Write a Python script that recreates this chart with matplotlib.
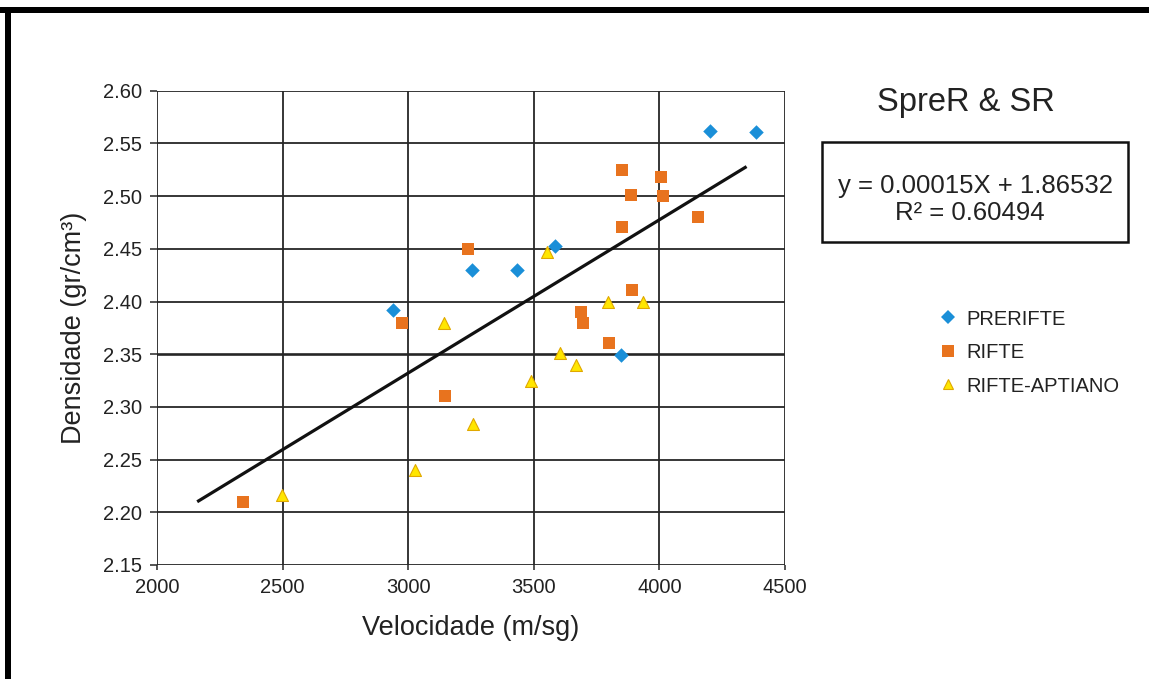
import matplotlib
matplotlib.use("Agg")
import matplotlib.pyplot as plt
from matplotlib.patches import Rectangle
from matplotlib.lines import Line2D

plt.rcParams['font.family'] = ['Liberation Sans', 'DejaVu Sans']

# ---- data ----
prerifte_x = [2940, 3255, 3432, 3584, 4201, 4383, 3846]
prerifte_y = [2.392, 2.430, 2.430, 2.453, 2.562, 2.561, 2.349]

rifte_x = [2977, 2344, 3148, 3239, 3852, 4005, 3887, 4013, 4152, 3850, 3892, 3688, 3696, 3798]
rifte_y = [2.380, 2.210, 2.310, 2.450, 2.525, 2.518, 2.501, 2.500, 2.480, 2.471, 2.411, 2.390, 2.380, 2.361]

aptiano_x = [3143, 2499, 3028, 3554, 3795, 3934, 3603, 3667, 3488, 3259]
aptiano_y = [2.380, 2.216, 2.240, 2.447, 2.400, 2.400, 2.351, 2.340, 2.325, 2.284]

trend_x = [2160, 4347]
trend_y = [2.210, 2.528]

x_ticks = [2000, 2500, 3000, 3500, 4000, 4500]
y_ticks = [2.15, 2.20, 2.25, 2.30, 2.35, 2.40, 2.45, 2.50, 2.55, 2.60]

series_names = ["PRERIFTE", "RIFTE", "RIFTE-APTIANO"]
title_text = "SpreR & SR"
eq_text = "y = 0.00015X + 1.86532"
r2_text = "R² = 0.60494"
x_label = "Velocidade (m/sg)"
y_label = "Densidade (gr/cm³)"

# ---- styles ----
W, H = 1149, 679
fig = plt.figure(figsize=(W / 100, H / 100), dpi=100)
fig.patch.set_facecolor('white')

ax = fig.add_axes([157 / W, 1 - 565 / H, (785 - 157) / W, (565 - 90.7) / H])
txt = '#222222'
grid_c = '#262626'

ax.set_xlim(2000, 4500)
ax.set_ylim(2.15, 2.60)
ax.set_xticks(x_ticks)
ax.set_yticks(y_ticks)
ax.set_yticklabels([f"{v:.2f}" for v in y_ticks])
ax.set_xticklabels([str(v) for v in x_ticks])

for v in x_ticks:
    ax.axvline(v, color=grid_c, lw=1.3, zorder=1)
for v in y_ticks:
    ax.axhline(v, color=grid_c, lw=1.9 if abs(v - 2.35) < 1e-9 else 1.3, zorder=1)
for s in ax.spines.values():
    s.set_visible(False)

ax.tick_params(axis='y', length=5, width=1.1, pad=6, labelsize=14.5, colors=grid_c, labelcolor=txt)
ax.tick_params(axis='x', length=3.6, width=1.1, pad=6, labelsize=14.5, colors=grid_c, labelcolor=txt)

ax.plot(trend_x, trend_y, color='#111111', lw=2.3, zorder=2, solid_capstyle='butt')

ax.scatter(prerifte_x, prerifte_y, marker='D', s=7.4 ** 2, color='#1A8FD8', lw=0, zorder=3)
ax.scatter(rifte_x, rifte_y, marker='s', s=8.8 ** 2, color='#E8731E', lw=0, zorder=3)
ax.scatter(aptiano_x, aptiano_y, marker='^', s=8.6 ** 2, color='#FFE600', edgecolors='#E0A800',
           linewidths=0.8, zorder=4)

ax.set_xlabel(x_label, fontsize=19.5, color=txt, labelpad=13)
ax.set_ylabel(y_label, fontsize=19.5, color=txt, labelpad=11)

# title and equation box
fig.text(966 / W, 1 - 103 / H, title_text, fontsize=23.5, color=txt, ha='center', va='center')
fig.add_artist(Rectangle((822 / W, 1 - 242 / H), (1128 - 822) / W, (242 - 142) / H,
                         transform=fig.transFigure, fill=False, edgecolor='#111111', lw=1.8))
fig.text(975 / W, 1 - 186 / H, eq_text, fontsize=18.5, color=txt, ha='center', va='center')
fig.text(970 / W, 1 - 213 / H, r2_text, fontsize=18.5, color=txt, ha='center', va='center')

# legend
handles = [
    Line2D([], [], ls='none', marker='D', ms=7.5, color='#1A8FD8', mew=0),
    Line2D([], [], ls='none', marker='s', ms=8.8, color='#E8731E', mew=0),
    Line2D([], [], ls='none', marker='^', ms=7.5, markerfacecolor='#FFE600',
           markeredgecolor='#E0A800', mew=0.8),
]
leg = fig.legend(handles, series_names, loc='center left', bbox_to_anchor=(938 / W, 1 - 352.5 / H),
                 frameon=False, fontsize=14.5, handlelength=1.0, handletextpad=0.42,
                 labelspacing=0.72, borderpad=0, borderaxespad=0)
for t in leg.get_texts():
    t.set_color(txt)

# outer black frame (top and left)
fig.add_artist(Rectangle((0, 1 - 12.5 / H), 1, 6 / H, transform=fig.transFigure,
                         facecolor='black', edgecolor='none'))
fig.add_artist(Rectangle((4.5 / W, 0), 6 / W, 1 - 7 / H, transform=fig.transFigure,
                         facecolor='black', edgecolor='none'))

fig.savefig('out.png', dpi=100, facecolor='white')
